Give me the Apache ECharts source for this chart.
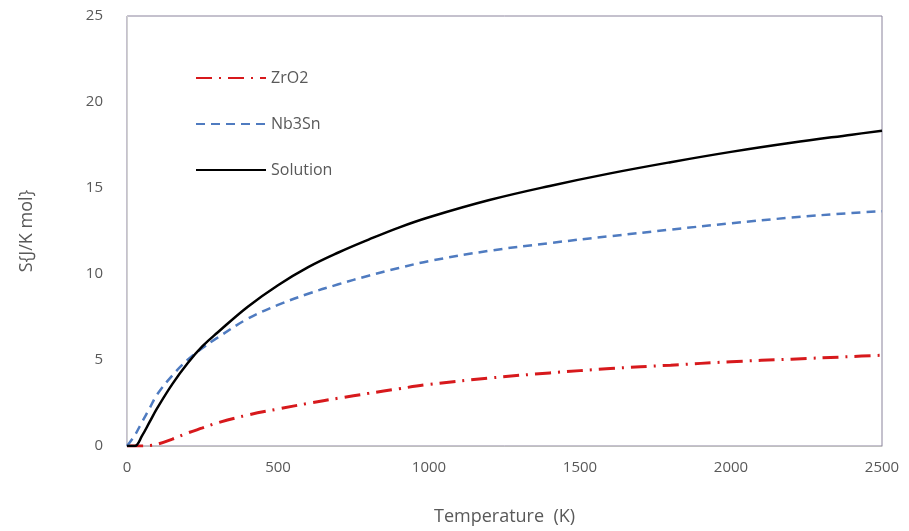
<!DOCTYPE html>
<html>
<head>
<meta charset="utf-8">
<script src="https://cdn.jsdelivr.net/npm/echarts@6/dist/echarts.min.js"></script>
<style>html,body{margin:0;padding:0;background:#fff;}#c{width:909px;height:531px;}</style>
</head>
<body>
<div id="c"></div>
<script>
const temperatures = [0,25,50,75,100,150,200,250,300,400,500,600,700,800,900,1000,1200,1400,1600,1800,2000,2200,2400,2500];
const zro2 =     [0,0,0,0.03,0.1,0.4,0.75,1.05,1.35,1.8,2.15,2.48,2.78,3.06,3.33,3.58,3.95,4.25,4.5,4.7,4.9,5.05,5.2,5.28];
const nb3sn =    [0,0.6,1.4,2.2,3.0,4.1,5.0,5.7,6.3,7.4,8.2,8.85,9.4,9.9,10.35,10.75,11.35,11.8,12.2,12.58,12.95,13.28,13.55,13.65];
const solution = [0,0,0.6,1.4,2.2,3.6,4.8,5.8,6.6,8.1,9.35,10.4,11.25,12.0,12.7,13.3,14.3,15.12,15.85,16.5,17.1,17.63,18.1,18.33];
const seriesNames = ['ZrO2','Nb3Sn','Solution'];
const xTicks = [0,500,1000,1500,2000,2500];
const yTicks = [0,5,10,15,20,25];

const pair = (arr) => temperatures.map((t,i)=>[t,arr[i]]);
const font = "'Open Sans', 'Noto Sans', sans-serif";
const chart = echarts.init(document.getElementById('c'), null, {renderer:'canvas'});
chart.setOption({
  animation:false,
  backgroundColor:'#ffffff',
  grid:{left:127,right:27,top:16,bottom:84,show:true,borderColor:'#8a839c',borderWidth:1},
  legend:{
    orient:'vertical', left:190, top:65, itemWidth:70, itemHeight:14, itemGap:30,
    itemStyle:{opacity:0},
    textStyle:{color:'#595959',fontSize:16,fontFamily:font},
    data:seriesNames
  },
  xAxis:{
    type:'value', min:xTicks[0], max:xTicks[xTicks.length-1], interval:500,
    name:'Temperature  (K)', nameLocation:'middle', nameGap:62,
    nameTextStyle:{color:'#595959',fontSize:18,fontFamily:font},
    axisLine:{show:true,onZero:false,lineStyle:{color:'#bfbfbf',width:1}},
    axisTick:{show:false},
    axisLabel:{color:'#595959',fontSize:15,fontFamily:font,margin:14,formatter:(v)=>String(v)},
    splitLine:{show:false}
  },
  yAxis:{
    type:'value', min:yTicks[0], max:yTicks[yTicks.length-1], interval:5,
    name:'S{J/K mol}', nameLocation:'middle', nameGap:91, nameRotate:90,
    nameTextStyle:{color:'#595959',fontSize:18,fontFamily:font},
    axisLine:{show:true,lineStyle:{color:'#d0d0d0',width:1}},
    axisTick:{show:false},
    axisLabel:{color:'#595959',fontSize:15,fontFamily:font,margin:24,formatter:(v)=>String(v)},
    splitLine:{show:false}
  },
  series:[
    {name:seriesNames[0],type:'line',data:pair(zro2),showSymbol:false,symbol:'none',smooth:0.4,
     lineStyle:{color:'#d7191c',width:3,type:[16,7,2,7]},itemStyle:{color:'#d7191c'}},
    {name:seriesNames[1],type:'line',data:pair(nb3sn),showSymbol:false,symbol:'none',smooth:0.4,
     lineStyle:{color:'#4f7bc0',width:2.5,type:[9,6]},itemStyle:{color:'#4f7bc0'}},
    {name:seriesNames[2],type:'line',data:pair(solution),showSymbol:false,symbol:'none',smooth:0.4,
     lineStyle:{color:'#000000',width:2.5,type:'solid'},itemStyle:{color:'#000000'}}
  ]
});
</script>
</body>
</html>
